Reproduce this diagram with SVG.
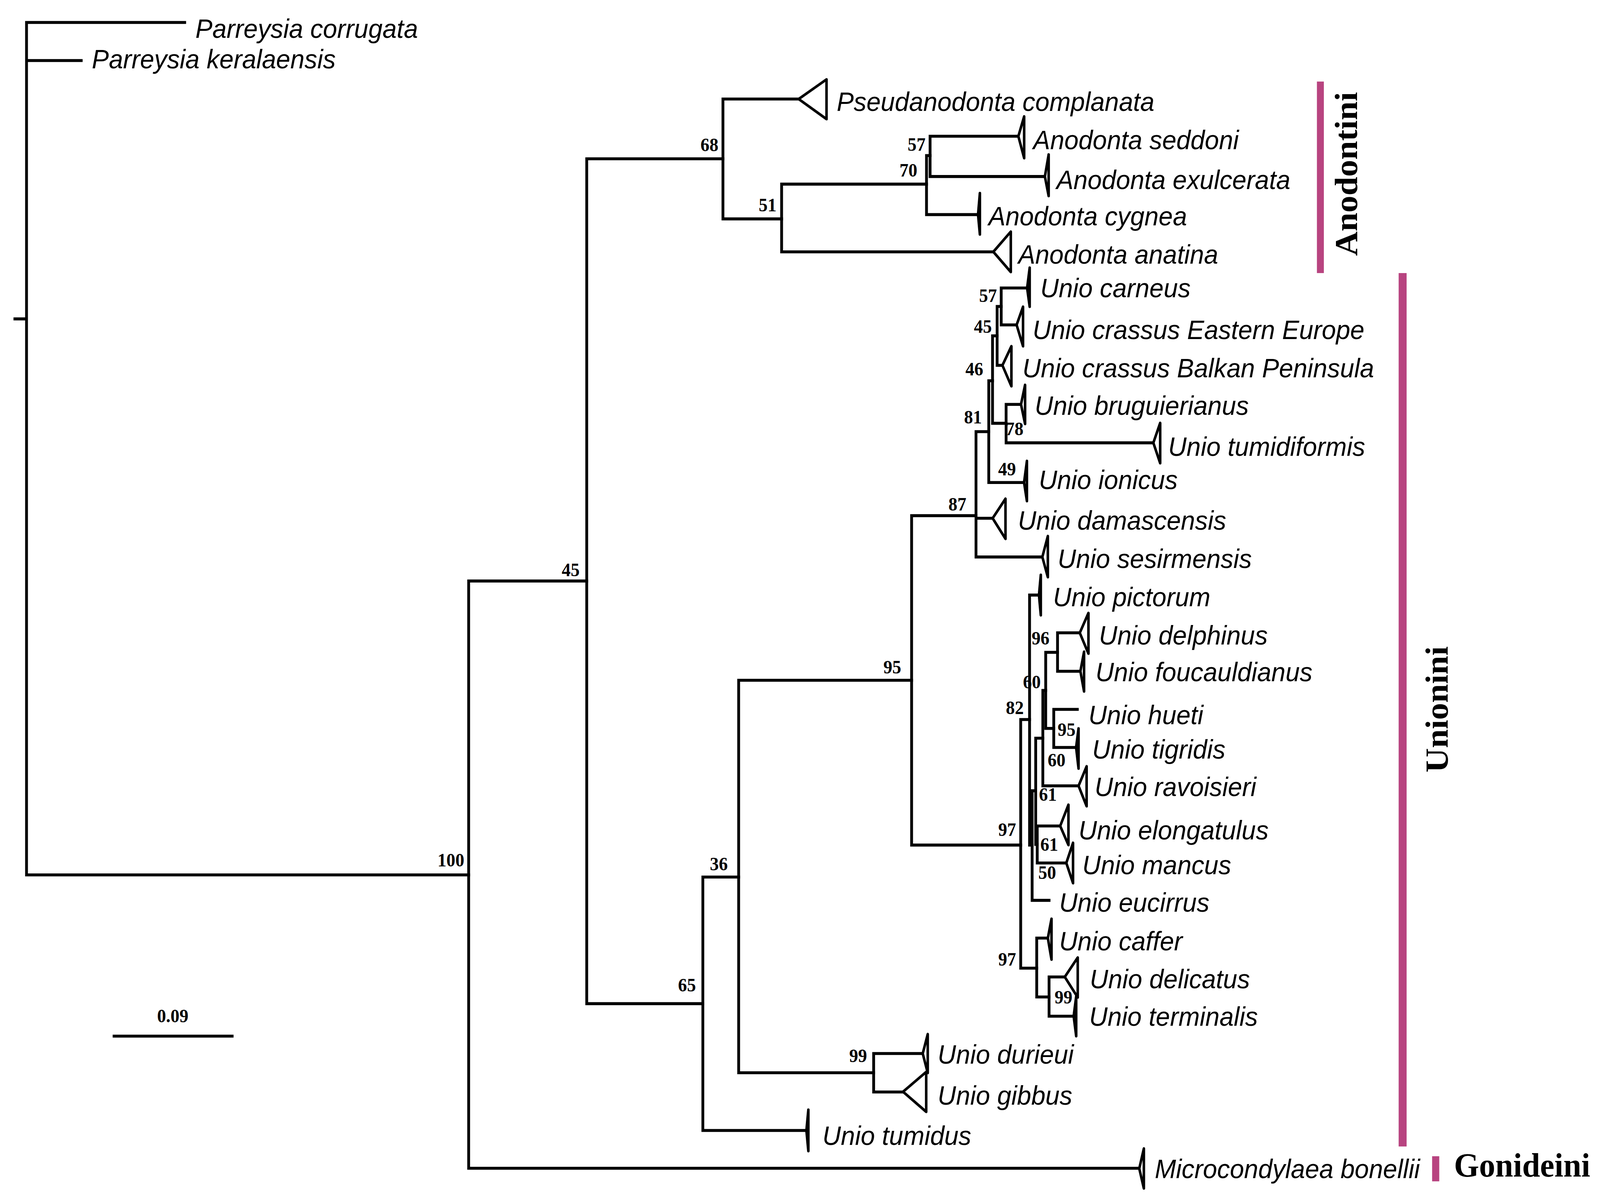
<svg xmlns="http://www.w3.org/2000/svg" width="4307" height="3072" viewBox="0 0 4307 3072">
<style>
.br{fill:none;stroke:#000;stroke-width:2.75;stroke-linecap:square}
.tri{fill:#fff;stroke:#000;stroke-width:2.5;stroke-linejoin:round}
.tx{font-family:"Liberation Sans",Arial,sans-serif;font-style:italic;font-size:25px;fill:#000}
.bs{font-family:"Liberation Serif","Times New Roman",serif;font-weight:bold;font-size:17.5px;fill:#000}
.tribe{font-family:"Liberation Serif","Times New Roman",serif;font-weight:bold;font-size:31.6px;fill:#000}
.bar{fill:#B84480}
</style>
<rect width="4307" height="3072" fill="#fff"/>
<g transform="scale(2.6122 2.74681)">
<g id="connectors">
<path class="br" d="M26 20.9V815.4M14.6 297.2H26M26 20.9H181M26 56.4H79.6M26 815.4H459.3"/>
<path class="br" d="M459.3 541.5V1088.8M459.3 541.5H575M459.3 1088.8H1116.5"/>
<path class="br" d="M575 148V935.4M575 148H708.5M575 935.4H688.8"/>
<path class="br" d="M708.5 92.3V204M708.5 92.3H782.7M708.5 204H766"/>
<path class="br" d="M766 171.6V234.7M766 171.6H908M766 234.7H973.5"/>
<path class="br" d="M908 145V200M908 145H911.5M908 200H959"/>
<path class="br" d="M911.5 127V164.5M911.5 127H998M911.5 164.5H1024"/>
<path class="br" d="M688.8 817.4V1053.6M688.8 817.4H723.9M688.8 1053.6H791.2"/>
<path class="br" d="M723.9 634V999.8M723.9 634H893.4M723.9 999.8H856.2"/>
<path class="br" d="M856.2 981.9V1017.7M856.2 981.9H904.3M856.2 1017.7H885"/>
<path class="br" d="M893.4 480.6V787.6M893.4 480.6H956.5M893.4 787.6H1000.3"/>
<path class="br" d="M956.5 402.3V519.1M956.5 402.3H969M956.5 483H972.8M956.5 519.1H1021.5"/>
<path class="br" d="M969 354.9V449.7M969 354.9H972.7M969 449.7H1003.6"/>
<path class="br" d="M972.7 313V394.5M972.7 313H977.2M972.7 394.5H986"/>
<path class="br" d="M977.2 285.6V340.5M977.2 285.6H981.2M977.2 340.5H982.4"/>
<path class="br" d="M981.2 268.4V302.8M981.2 268.4H1006.6M981.2 302.8H996.3"/>
<path class="br" d="M986 376.9V412.7M986 376.9H1000.6M986 412.7H1130.3"/>
<path class="br" d="M1000.3 670.6V902.3M1000.3 670.6H1009M1000.3 902.3H1016"/>
<path class="br" d="M1009 554.6V787.6M1009 554.6H1018.2M1009 787.6H1011.5"/>
<path class="br" d="M1011.5 737V839.1M1011.5 737H1015M1011.5 839.1H1028.1"/>
<path class="br" d="M1015 688V787M1015 688H1022M1015 787H1016.5"/>
<path class="br" d="M1016.5 769.8V804.3M1016.5 769.8H1039M1016.5 804.3H1045"/>
<path class="br" d="M1022 643.5V732.4M1022 643.5H1024.8M1022 732.4H1057"/>
<path class="br" d="M1024.8 608V678.9M1024.8 608H1036.4M1024.8 678.9H1032.7"/>
<path class="br" d="M1036.4 589.8V625.6M1036.4 589.8H1058.2M1036.4 625.6H1058.8"/>
<path class="br" d="M1032.7 661.1V696.6M1032.7 661.1H1055.8M1032.7 696.6H1054.6"/>
<path class="br" d="M1016 874.3V929.2M1016 874.3H1026.9M1016 929.2H1028.1"/>
<path class="br" d="M1028.1 910.5V947.1M1028.1 910.5H1043.5M1028.1 947.1H1052.2"/>
</g>
<g id="bootstrap">
<text class="bs" x="455" y="807.6" text-anchor="end">100</text>
<text class="bs" x="568" y="537" text-anchor="end">45</text>
<text class="bs" x="704" y="141" text-anchor="end">68</text>
<text class="bs" x="761" y="197" text-anchor="end">51</text>
<text class="bs" x="899" y="164.5" text-anchor="end">70</text>
<text class="bs" x="907" y="140.5" text-anchor="end">57</text>
<text class="bs" x="977" y="281.6" text-anchor="end">57</text>
<text class="bs" x="972" y="310" text-anchor="end">45</text>
<text class="bs" x="963.6" y="350" text-anchor="end">46</text>
<text class="bs" x="962.3" y="394.5" text-anchor="end">81</text>
<text class="bs" x="1003" y="405.5" text-anchor="end">78</text>
<text class="bs" x="995.7" y="443.2" text-anchor="end">49</text>
<text class="bs" x="947" y="476" text-anchor="end">87</text>
<text class="bs" x="883.2" y="627.5" text-anchor="end">95</text>
<text class="bs" x="1028.5" y="600.7" text-anchor="end">96</text>
<text class="bs" x="1020" y="641.4" text-anchor="end">60</text>
<text class="bs" x="1003.3" y="665.4" text-anchor="end">82</text>
<text class="bs" x="1054" y="686" text-anchor="end">95</text>
<text class="bs" x="1044.2" y="714.2" text-anchor="end">60</text>
<text class="bs" x="1035.7" y="746.3" text-anchor="end">61</text>
<text class="bs" x="995.8" y="779.2" text-anchor="end">97</text>
<text class="bs" x="1037" y="793" text-anchor="end">61</text>
<text class="bs" x="1035" y="819" text-anchor="end">50</text>
<text class="bs" x="713.2" y="811.2" text-anchor="end">36</text>
<text class="bs" x="995.8" y="900" text-anchor="end">97</text>
<text class="bs" x="1051" y="935.3" text-anchor="end">99</text>
<text class="bs" x="682" y="924" text-anchor="end">65</text>
<text class="bs" x="849.7" y="990" text-anchor="end">99</text>
</g>
<g id="scale-bar">
<path class="br" d="M111.8 965.7H227.5" stroke-linecap="butt"/>
<text class="bs" x="169.3" y="952.6" text-anchor="middle">0.09</text>
</g>
<g id="parreysia-corrugata"><text class="tx" x="191.5" y="35.5">Parreysia corrugata</text></g>
<g id="parreysia-keralaensis"><text class="tx" x="90" y="63.7">Parreysia keralaensis</text></g>
<g id="pseudanodonta-complanata"><polygon class="tri" points="782.7,92.3 810,74 810,111"/><text class="tx" x="820" y="103.4">Pseudanodonta complanata</text></g>
<g id="anodonta-seddoni"><polygon class="tri" points="998,127 1003.7,108.5 1003.7,147.4"/><text class="tx" x="1012.5" y="139">Anodonta seddoni</text></g>
<g id="anodonta-exulcerata"><polygon class="tri" points="1024,164.5 1027.7,144 1027.7,182.7"/><text class="tx" x="1035.3" y="176.2">Anodonta exulcerata</text></g>
<g id="anodonta-cygnea"><polygon class="tri" points="958.5,200 960.3,180 960.3,218.5"/><text class="tx" x="968.7" y="210">Anodonta cygnea</text></g>
<g id="anodonta-anatina"><polygon class="tri" points="973.5,234.7 990.6,215.9 990.6,253.5"/><text class="tx" x="997.9" y="245.7">Anodonta anatina</text></g>
<g id="unio-carneus"><polygon class="tri" points="1006.6,268.4 1009.1,249.5 1009.1,285.9"/><text class="tx" x="1019.5" y="277">Unio carneus</text></g>
<g id="unio-crassus-ee"><polygon class="tri" points="996.3,302.8 1002.6,285.9 1002.6,322.7"/><text class="tx" x="1012" y="316">Unio crassus Eastern Europe</text></g>
<g id="unio-crassus-bp"><polygon class="tri" points="982.4,340.5 991.2,322.7 991.2,360"/><text class="tx" x="1002" y="351.6">Unio crassus Balkan Peninsula</text></g>
<g id="unio-bruguierianus"><polygon class="tri" points="1000.6,376.9 1004.6,358.7 1004.6,395.1"/><text class="tx" x="1014" y="386.8">Unio bruguierianus</text></g>
<g id="unio-tumidiformis"><polygon class="tri" points="1130.3,412.7 1137,394.2 1137,431.7"/><text class="tx" x="1144.8" y="424.7">Unio tumidiformis</text></g>
<g id="unio-ionicus"><polygon class="tri" points="1003.6,449.7 1006.4,429.6 1006.4,467"/><text class="tx" x="1018" y="455.8">Unio ionicus</text></g>
<g id="unio-damascensis"><polygon class="tri" points="972.8,483 985.4,464.8 985.4,502.2"/><text class="tx" x="997.5" y="493.5">Unio damascensis</text></g>
<g id="unio-sesirmensis"><polygon class="tri" points="1021.5,519.1 1026.9,499.6 1026.9,537.9"/><text class="tx" x="1036.5" y="529.5">Unio sesirmensis</text></g>
<g id="unio-pictorum"><polygon class="tri" points="1018.2,554.6 1020,535.8 1020,573.4"/><text class="tx" x="1032" y="565">Unio pictorum</text></g>
<g id="unio-delphinus"><polygon class="tri" points="1058.2,589.8 1066.7,571.3 1066.7,609.2"/><text class="tx" x="1077" y="600.6">Unio delphinus</text></g>
<g id="unio-foucauldianus"><polygon class="tri" points="1058.8,625.6 1062.4,607.4 1062.4,644.4"/><text class="tx" x="1073.6" y="635">Unio foucauldianus</text></g>
<g id="unio-hueti"><text class="tx" x="1066.7" y="675">Unio hueti</text></g>
<g id="unio-tigridis"><polygon class="tri" points="1054.6,696.6 1057,678.9 1057,716.3"/><text class="tx" x="1070.4" y="707">Unio tigridis</text></g>
<g id="unio-ravoisieri"><polygon class="tri" points="1057,732.4 1064.9,714.2 1064.9,751.4"/><text class="tx" x="1072.8" y="742">Unio ravoisieri</text></g>
<g id="unio-elongatulus"><polygon class="tri" points="1039,769.8 1047.1,750 1047.1,787.6"/><text class="tx" x="1057" y="782.4">Unio elongatulus</text></g>
<g id="unio-mancus"><polygon class="tri" points="1045,804.3 1051.6,785.5 1051.6,823.1"/><text class="tx" x="1060.7" y="814.8">Unio mancus</text></g>
<g id="unio-eucirrus"><text class="tx" x="1038" y="849.6">Unio eucirrus</text></g>
<g id="unio-caffer"><polygon class="tri" points="1026.9,874.3 1030.5,856.3 1030.5,894.3"/><text class="tx" x="1038" y="885.8">Unio caffer</text></g>
<g id="unio-delicatus"><polygon class="tri" points="1043.5,910.5 1056.2,892.4 1056.2,929.6"/><text class="tx" x="1068" y="921">Unio delicatus</text></g>
<g id="unio-terminalis"><polygon class="tri" points="1052.2,947.1 1054.7,928.6 1054.7,965.7"/><text class="tx" x="1067.4" y="956">Unio terminalis</text></g>
<g id="unio-durieui"><polygon class="tri" points="904.3,981.9 909.2,963.8 909.2,1000"/><text class="tx" x="918.9" y="991.5">Unio durieui</text></g>
<g id="unio-gibbus"><polygon class="tri" points="885,1017.5 907.7,999 907.7,1036.2"/><text class="tx" x="918.9" y="1029.6">Unio gibbus</text></g>
<g id="unio-tumidus"><polygon class="tri" points="790.3,1053.6 792.2,1034.3 792.2,1072.8"/><text class="tx" x="806" y="1066.9">Unio tumidus</text></g>
<g id="microcondylaea-bonellii"><polygon class="tri" points="1116.5,1089.1 1121,1070.4 1121,1107.6"/><text class="tx" x="1131.7" y="1098">Microcondylaea bonellii</text></g>
<g id="tribe-anodontini"><rect class="bar" x="1290.6" y="76" width="6.8" height="178.5"/><text class="tribe" transform="translate(1330 238.5) rotate(-90)">Anodontini</text></g>
<g id="tribe-unionini"><rect class="bar" x="1370.7" y="254.5" width="7.8" height="814"/><text class="tribe" transform="translate(1418.7 720) rotate(-90)">Unionini</text></g>
<g id="tribe-gonideini"><rect class="bar" x="1403.5" y="1077.6" width="7" height="23.4"/><text class="tribe" x="1425" y="1096.5">Gonideini</text></g>
</g>
</svg>
